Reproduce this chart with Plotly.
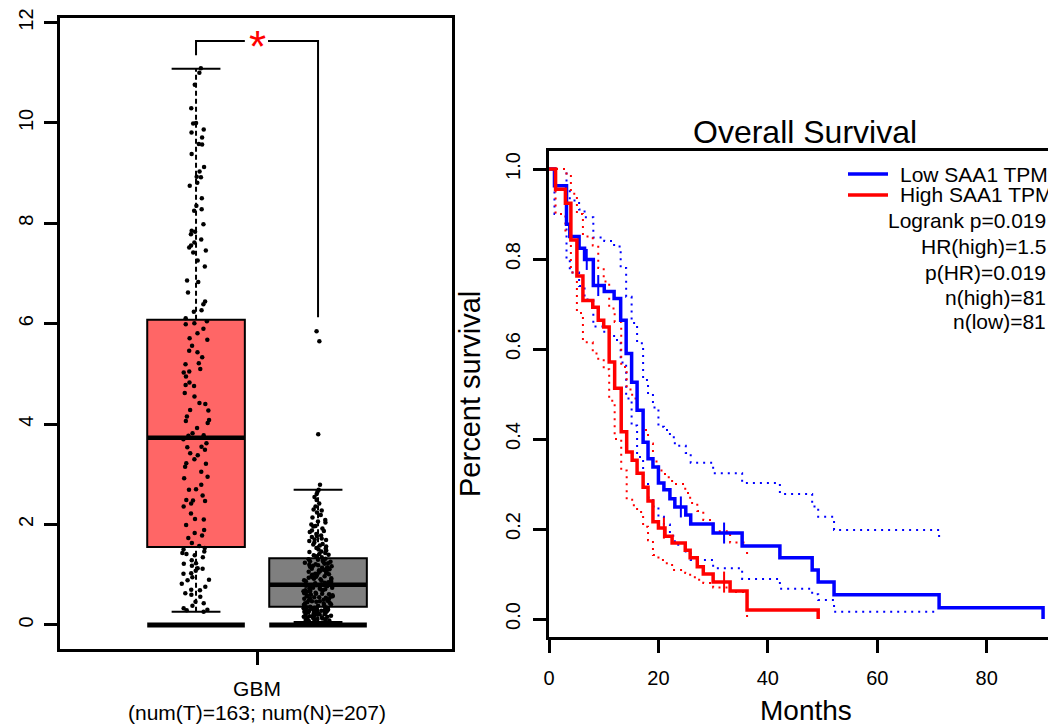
import plotly.graph_objects as go

W, H = 1056, 725
OX, OY = 8, 8  # page body margin offset
FONT = "Liberation Sans, Arial, sans-serif"

# ---------------- Box plot data (GBM, log2(TPM+1)) ----------------
group_pos = [1, 2]
box_colors = ["#FF6666", "#7F7F7F"]
q1 = [1.55, 0.36]
median = [3.73, 0.80]
q3 = [6.08, 1.33]
whisker_low = [0.26, 0.06]
whisker_high = [11.08, 2.69]
zero_level = [0.0, 0.0]

tumor_values = [
    11.09, 11.00, 10.76, 10.29, 10.00, 9.99, 9.87, 9.81, 9.71, 9.58, 9.57, 9.38, 9.12, 9.03,
    8.93, 8.92, 8.81, 8.75, 8.50, 8.35, 8.28, 8.25, 7.98, 7.85, 7.83, 7.78, 7.68, 7.62, 7.56,
    7.52, 7.46, 7.42, 7.26, 7.14, 6.86, 6.83, 6.62, 6.44, 6.39, 6.27, 6.24, 6.11, 6.05, 6.01,
    5.99, 5.90, 5.81, 5.71, 5.68, 5.56, 5.46, 5.43, 5.33, 5.21, 5.19, 5.10, 5.05, 5.03, 4.95,
    4.83, 4.78, 4.76, 4.62, 4.55, 4.42, 4.40, 4.28, 4.27, 4.15, 4.08, 4.06, 4.02, 3.92, 3.82,
    3.78, 3.77, 3.70, 3.62, 3.55, 3.54, 3.49, 3.42, 3.38, 3.30, 3.22, 3.21, 3.15, 3.05, 2.95,
    2.92, 2.79, 2.70, 2.69, 2.58, 2.49, 2.48, 2.47, 2.42, 2.36, 2.22, 2.11, 2.10, 1.99, 1.89,
    1.83, 1.78, 1.73, 1.63, 1.57, 1.53, 1.50, 1.46, 1.43, 1.41, 1.39, 1.35, 1.29, 1.23, 1.22,
    1.18, 1.13, 1.12, 1.08, 1.03, 1.02, 0.95, 0.90, 0.89, 0.82, 0.76, 0.70, 0.69, 0.63, 0.60,
    0.56, 0.46, 0.43, 0.38, 0.33, 0.30, 0.29, 0.26,
]
normal_values = [
    0.06, 0.08, 0.09, 0.11, 0.12, 0.12, 0.13, 0.15, 0.16, 0.16, 0.18, 0.19, 0.19, 0.21, 0.22,
    0.22, 0.24, 0.25, 0.25, 0.27, 0.28, 0.29, 0.29, 0.30, 0.31, 0.33, 0.33, 0.34, 0.35, 0.36,
    0.14, 0.20, 0.26, 0.32, 0.17, 0.23, 0.30, 0.10, 0.27, 0.34, 0.13, 0.21, 0.35, 0.18, 0.29,
    0.24, 0.31, 0.15, 0.26, 0.33,
    0.38, 0.40, 0.41, 0.43, 0.45, 0.46, 0.47, 0.49, 0.50, 0.52, 0.53, 0.55, 0.56, 0.57, 0.59,
    0.60, 0.62, 0.63, 0.64, 0.66, 0.67, 0.69, 0.70, 0.71, 0.73, 0.74, 0.75, 0.77, 0.78, 0.79,
    0.39, 0.44, 0.48, 0.51, 0.54, 0.58, 0.61, 0.65, 0.68, 0.72, 0.76, 0.80, 0.42, 0.47, 0.55,
    0.62, 0.69, 0.74, 0.57, 0.66,
    0.81, 0.83, 0.84, 0.86, 0.88, 0.89, 0.91, 0.93, 0.94, 0.96, 0.98, 0.99, 1.01, 1.03, 1.04,
    1.06, 1.08, 1.09, 1.11, 1.13, 1.14, 1.16, 1.18, 1.19, 1.21, 1.23, 1.24, 1.26, 1.28, 1.30,
    1.32, 0.85, 0.92, 0.97, 1.02, 1.07, 1.12, 1.17, 1.22, 1.27, 1.31, 0.87, 0.95, 1.05, 1.15,
    1.25, 0.90, 1.00, 1.10, 1.20,
    1.35, 1.37, 1.39, 1.41, 1.43, 1.46, 1.48, 1.50, 1.53, 1.56, 1.58, 1.61, 1.64, 1.67, 1.70,
    1.72, 1.75, 1.78, 1.81, 1.85, 1.88, 1.92, 1.96, 2.00, 2.04, 2.09, 2.14, 2.19, 2.24, 2.30,
    2.36, 2.42, 2.49, 2.55, 2.61, 2.66, 2.69, 1.40, 1.45, 1.52, 1.60, 1.69, 1.77, 1.87, 1.97,
    2.06, 2.28, 2.79, 3.80, 5.65, 5.85,
]
group_values = [tumor_values, normal_values]
x_tick_label = "GBM"
x_title = "(num(T)=163; num(N)=207)"
box_ticks = [0, 2, 4, 6, 8, 10, 12]

# ---------------- Kaplan-Meier data ----------------
low_time = [0, 1.0, 3.2, 3.8, 5.5, 6.5, 8.1, 10.1, 11.9, 13.1, 14.1, 15.1, 16.1, 17.2, 18.1,
            19.0, 20.0, 21.0, 22.1, 23.0, 25.0, 25.9, 30.0, 35.3, 42.2, 48.1, 49.2, 52.1, 71.3, 90.3]
low_surv = [1.0, 0.963, 0.877, 0.850, 0.824, 0.799, 0.741, 0.728, 0.712, 0.664, 0.590, 0.526,
            0.464, 0.393, 0.356, 0.338, 0.302, 0.287, 0.267, 0.249, 0.231, 0.211, 0.191, 0.162,
            0.136, 0.109, 0.082, 0.054, 0.025, 0.0]
low_upper = [1.0, 1.0, 0.955, 0.93, 0.91, 0.893, 0.848, 0.840, 0.828, 0.78, 0.716, 0.658, 0.613,
             0.531, 0.50, 0.47, 0.427, 0.42, 0.404, 0.385, 0.369, 0.347, 0.324, 0.302, 0.278,
             0.25, 0.227, 0.198, 0.182, None]
low_lower = [1.0, 0.90, 0.80, 0.77, 0.74, 0.71, 0.65, 0.635, 0.62, 0.57, 0.49, 0.43, 0.36, 0.30,
             0.27, 0.25, 0.227, 0.21, 0.185, 0.165, 0.15, 0.131, 0.113, 0.089, 0.067, 0.055,
             0.042, 0.016, 0.016, None]
low_cens_t = [6.9, 9.0, 24.1, 32.0]
low_cens_s = [0.799, 0.741, 0.249, 0.191]

high_time = [0, 1.2, 3.0, 4.0, 5.1, 6.2, 8.0, 9.0, 10.0, 11.0, 12.0, 13.2, 14.2, 15.2, 16.1,
             17.2, 18.1, 19.0, 20.0, 21.2, 22.5, 24.9, 25.8, 27.1, 28.2, 30.0, 33.1, 36.2, 49.2]
high_surv = [1.0, 0.955, 0.924, 0.842, 0.762, 0.708, 0.693, 0.664, 0.649, 0.571, 0.513, 0.416,
             0.371, 0.353, 0.324, 0.293, 0.262, 0.216, 0.202, 0.184, 0.169, 0.153, 0.136, 0.116,
             0.100, 0.082, 0.062, 0.020, 0.0]
high_upper = [1.0, 1.0, 0.99, 0.945, 0.90, 0.85, 0.83, 0.78, 0.75, 0.69, 0.66, 0.56, 0.51, 0.49,
              0.46, 0.42, 0.39, 0.35, 0.33, 0.315, 0.30, 0.28, 0.258, 0.24, 0.22, 0.195, 0.17,
              0.142, None]
high_lower = [1.0, 0.90, 0.86, 0.77, 0.68, 0.615, 0.59, 0.575, 0.555, 0.485, 0.40, 0.33, 0.265,
              0.253, 0.238, 0.205, 0.175, 0.142, 0.131, 0.124, 0.109, 0.102, 0.093, 0.087, 0.08,
              0.07, 0.06, 0.004, None]
high_cens_t = [21.0, 32.0]
high_cens_s = [0.202, 0.082]

km_xticks = [0, 20, 40, 60, 80]
km_yticks = [0.0, 0.2, 0.4, 0.6, 0.8, 1.0]
legend_labels = ["Low SAA1 TPM", "High SAA1 TPM"]
stats_lines = ["Logrank p=0.019", "HR(high)=1.5", "p(HR)=0.019", "n(high)=81", "n(low)=81"]

BLUE = "#0000FF"
RED = "#FF0000"


def px(x):
    return (x - OX) / W


def py(y):
    return 1 - (y - OY) / H


fig = go.Figure()

# ---------------- Left panel: box plot ----------------
half_box = 0.4
half_cap = 0.2
for i, pos in enumerate(group_pos):
    fig.add_trace(go.Box(
        x=[pos], q1=[q1[i]], median=[median[i]], q3=[q3[i]],
        lowerfence=[q1[i]], upperfence=[q3[i]], width=2 * half_box,
        fillcolor=box_colors[i], line=dict(color="black", width=2),
        boxpoints=False, showlegend=False, hoverinfo="skip", xaxis="x", yaxis="y"))
    fig.add_trace(go.Scatter(x=[pos, pos], y=[q3[i], whisker_high[i]], mode="lines",
                             line=dict(color="black", width=2, dash="5px,3px"),
                             showlegend=False, hoverinfo="skip", xaxis="x", yaxis="y"))
    fig.add_trace(go.Scatter(x=[pos, pos], y=[whisker_low[i], q1[i]], mode="lines",
                             line=dict(color="black", width=2, dash="5px,3px"),
                             showlegend=False, hoverinfo="skip", xaxis="x", yaxis="y"))
    for wv in (whisker_high[i], whisker_low[i]):
        fig.add_trace(go.Scatter(x=[pos - half_cap, pos + half_cap], y=[wv, wv], mode="lines",
                                 line=dict(color="black", width=2),
                                 showlegend=False, hoverinfo="skip", xaxis="x", yaxis="y"))
    fig.add_trace(go.Scatter(x=[pos - half_box, pos + half_box], y=[median[i], median[i]],
                             mode="lines", line=dict(color="black", width=4.5),
                             showlegend=False, hoverinfo="skip", xaxis="x", yaxis="y"))
    fig.add_trace(go.Scatter(x=[pos - half_box, pos + half_box], y=[zero_level[i], zero_level[i]],
                             mode="lines", line=dict(color="black", width=5),
                             showlegend=False, hoverinfo="skip", xaxis="x", yaxis="y"))
    fig.add_trace(go.Box(
        x=[pos] * len(group_values[i]), y=group_values[i], width=2 * half_box,
        boxpoints="all", jitter=0.3, pointpos=0,
        fillcolor="rgba(0,0,0,0)", line=dict(color="rgba(0,0,0,0)", width=0),
        marker=dict(color="black", size=4.5), showlegend=False, hoverinfo="skip",
        xaxis="x", yaxis="y"))

# significance bracket
sig_top = 11.63
gap_l, gap_r = 1.40, 1.59
fig.add_trace(go.Scatter(x=[group_pos[0], group_pos[0], gap_l], y=[11.35, sig_top, sig_top],
                         mode="lines", line=dict(color="black", width=2),
                         showlegend=False, hoverinfo="skip", xaxis="x", yaxis="y"))
fig.add_trace(go.Scatter(x=[gap_r, group_pos[1], group_pos[1]], y=[sig_top, sig_top, 6.13],
                         mode="lines", line=dict(color="black", width=2),
                         showlegend=False, hoverinfo="skip", xaxis="x", yaxis="y"))

# ---------------- Right panel: KM ----------------
dot = "2px,5px"
for t, s, c in [(low_time, low_upper, BLUE), (low_time, low_lower, BLUE),
                (high_time, high_upper, RED), (high_time, high_lower, RED)]:
    fig.add_trace(go.Scatter(x=t, y=s, mode="lines", line=dict(color=c, width=2, dash=dot, shape="hv"),
                             connectgaps=False, showlegend=False, hoverinfo="skip",
                             xaxis="x2", yaxis="y2"))
fig.add_trace(go.Scatter(x=low_time, y=low_surv, mode="lines", line=dict(color=BLUE, width=3.5, shape="hv"),
                         showlegend=False, xaxis="x2", yaxis="y2"))
fig.add_trace(go.Scatter(x=high_time, y=high_surv, mode="lines", line=dict(color=RED, width=3.5, shape="hv"),
                         showlegend=False, xaxis="x2", yaxis="y2"))
fig.add_trace(go.Scatter(x=low_cens_t, y=low_cens_s, mode="markers",
                         marker=dict(symbol="line-ns", size=15, line=dict(color=BLUE, width=2)),
                         showlegend=False, xaxis="x2", yaxis="y2"))
fig.add_trace(go.Scatter(x=high_cens_t, y=high_cens_s, mode="markers",
                         marker=dict(symbol="line-ns", size=15, line=dict(color=RED, width=2)),
                         showlegend=False, xaxis="x2", yaxis="y2"))

axis_common = dict(showgrid=False, zeroline=False, showline=True, linecolor="black", linewidth=2.5,
                   mirror=True, ticks="outside", tickcolor="black", tickwidth=2.5, ticklen=13,
                   automargin=False,
                   tickfont=dict(family=FONT, size=20, color="black"))

fig.update_layout(
    width=W, height=H, autosize=False,
    margin=dict(l=0, r=0, t=0, b=0, pad=0, autoexpand=False),
    paper_bgcolor="white", plot_bgcolor="white",
    boxmode="overlay", showlegend=False,
    font=dict(family=FONT, color="black"),
    xaxis=dict(axis_common, domain=[px(60), px(452)], range=[-0.115, 3.098],
               tickvals=[(group_pos[0] + group_pos[1]) / 2], ticktext=[x_tick_label],
               tickfont=dict(family=FONT, size=21, color="black"), anchor="y",
               ticklabelstandoff=6),
    yaxis=dict(axis_common, domain=[py(649), py(18)], range=[-0.48, 12.09],
               tickvals=box_ticks, tickangle=-90, anchor="x", ticklabelstandoff=3),
    xaxis2=dict(axis_common, domain=[px(549), px(1054)], range=[0, 92.3],
                tickvals=km_xticks, anchor="y2", ticklabelstandoff=8),
    yaxis2=dict(axis_common, domain=[py(637), py(151)], range=[-0.04, 1.04],
                tickvals=km_yticks, ticktext=[f"{v:.1f}" for v in km_yticks],
                tickangle=-90, anchor="x2", ticklabelstandoff=5),
)

ann = []
ann.append(dict(x=1.5, y=sig_top, xref="x", yref="y", text="*", showarrow=False,
                font=dict(family=FONT, size=44, color=RED), xanchor="center",
                yanchor="middle", yshift=-5))
ann.append(dict(x=px(257), y=py(712), xref="paper", yref="paper", text=x_title, showarrow=False,
                font=dict(family=FONT, size=21, color="black"), xanchor="center", yanchor="middle"))
ann.append(dict(x=px(805), y=py(132), xref="paper", yref="paper", text="Overall Survival",
                showarrow=False, font=dict(family=FONT, size=32, color="black"),
                xanchor="center", yanchor="middle"))
ann.append(dict(x=px(806), y=py(710), xref="paper", yref="paper", text="Months",
                showarrow=False, font=dict(family=FONT, size=28, color="black"),
                xanchor="center", yanchor="middle"))
ann.append(dict(x=px(470), y=py(394), xref="paper", yref="paper", text="Percent survival",
                textangle=-90, showarrow=False, font=dict(family=FONT, size=29, color="black"),
                xanchor="center", yanchor="middle"))
shapes = []
for lab, c, yy in [(legend_labels[0], BLUE, 174), (legend_labels[1], RED, 195)]:
    shapes.append(dict(type="line", xref="paper", yref="paper", x0=px(848), x1=px(888),
                       y0=py(yy), y1=py(yy), line=dict(color=c, width=3.5)))
    ann.append(dict(x=px(898), y=py(yy), xref="paper", yref="paper", text=lab, showarrow=False,
                    xanchor="left", yanchor="middle", font=dict(family=FONT, size=21, color="black")))
for txt, yy in zip(stats_lines, [220, 246, 272, 297, 322]):
    ann.append(dict(x=px(1048), y=py(yy), xref="paper", yref="paper", text=txt, showarrow=False,
                    xanchor="right", yanchor="middle", font=dict(family=FONT, size=21, color="black")))

fig.update_layout(annotations=ann, shapes=shapes)
fig.write_html("out.html")
